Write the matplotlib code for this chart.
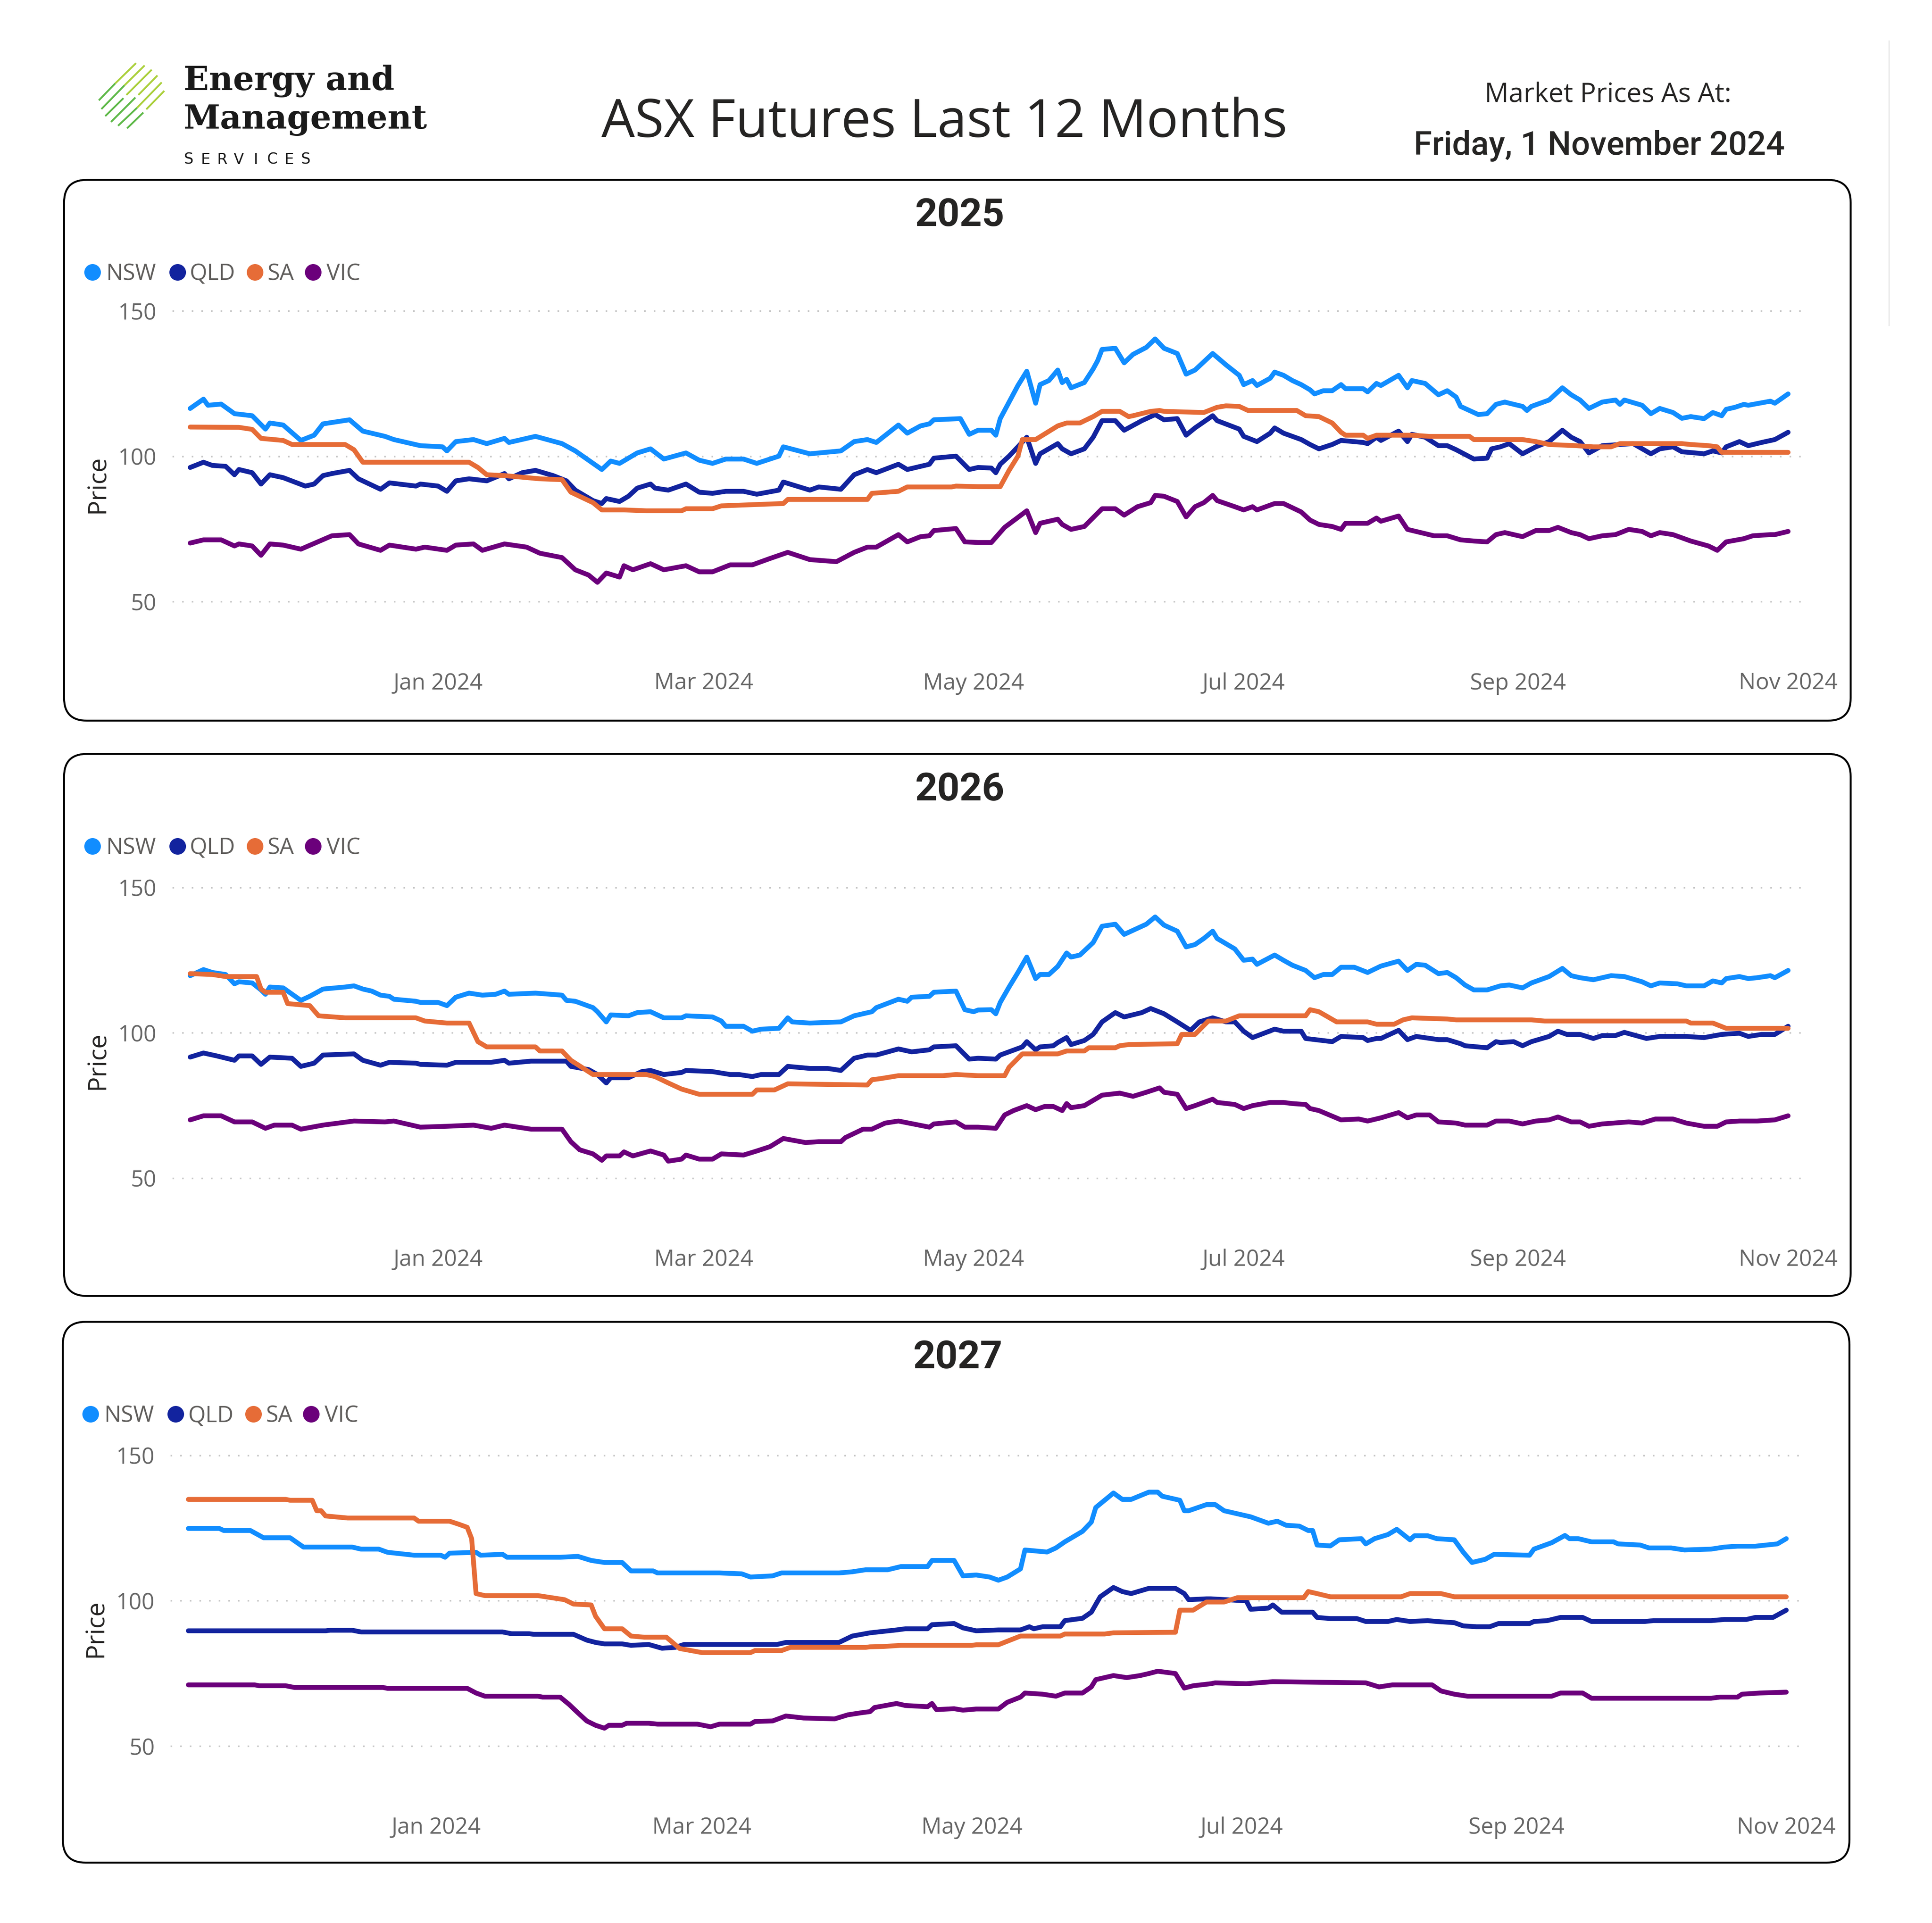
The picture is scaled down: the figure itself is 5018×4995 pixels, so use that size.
import numpy as np
import matplotlib
matplotlib.use("Agg")
from matplotlib import pyplot as plt
import matplotlib.dates as mdates
from matplotlib.patches import FancyBboxPatch
from matplotlib.lines import Line2D

# dane: dni liczone od 2024-01-01, ceny w $/MWh
BASE_DATE = np.datetime64("2024-01-01")
regions = ["NSW", "QLD", "SA", "VIC"]
colors = ["#118DFF", "#12239E", "#E66C37", "#6B007B"]
panel_titles = ["2025", "2026", "2027"]
ytick_values = [50, 100, 150]

# ---- 2025 ----
nsw_2025_days = [-56, -53, -52, -49, -46, -42, -39, -38, -35, -31, -28, -26, -20, -17, -12, -10, -4, 1, 2, 4,
                 8, 11, 15, 16, 22, 28, 31, 37, 39, 41, 45, 48, 51, 56, 59, 62, 65, 69, 72, 77,
                 78, 84, 91, 94, 97, 99, 104, 106, 109, 111, 112, 118, 120,
                 122, 125, 126, 127, 129, 131, 133, 135, 136, 138, 140, 141, 142, 143, 146, 148, 149, 150, 153, 155,
                 157, 160, 162, 164, 167, 169, 171, 175, 178, 181, 182, 184, 185, 188, 189, 191, 193, 195, 197, 198,
                 200, 202, 204, 205, 209, 210, 212, 213, 217, 219, 220, 223, 226, 228, 230, 231, 235, 237, 239, 241,
                 242, 245, 246, 247, 251, 252, 254, 256, 258, 260, 263, 266, 267, 268, 272, 274, 276, 279, 281, 283,
                 286, 288, 290, 291, 293, 295, 296, 301, 302, 305]
nsw_2025 = [116.5, 119.7, 117.6, 118, 114.7, 114, 109.4, 111.5, 110.8, 105.5, 107.3, 111.2, 112.6, 108.7, 106.9,
            105.8, 103.7, 103.3, 101.9, 105.1, 105.8, 104.4, 106.2, 104.8, 106.9, 104.4, 101.9, 95.5, 98.4, 97.6,
            101.2, 102.6, 99.1, 101.2, 98.7, 97.6, 99.1, 99.1, 97.6, 100.1, 103.3, 100.9, 101.9, 105.1, 105.8,
            104.8, 110.8, 108, 110.5, 111.2, 112.6, 113, 107.6,
            109, 109, 107.3, 113, 118.7, 124.4, 129.3, 118.3, 124.7, 126.1, 129.7, 125.4, 126.5, 123.6, 125.4,
            130.1, 132.9, 136.8, 137.2, 132.2, 135.1, 137.5, 140.4, 137.2, 135.4, 128.3, 129.7, 135.4, 131.5, 127.9,
            124.7, 126.1, 124.4, 126.9, 129, 127.9, 126.1, 124.7, 122.9, 121.5, 122.6, 122.6, 124.7, 123.3, 123.3,
            122.2, 125.1, 124.4, 127.9, 123.6, 126.1, 125.1, 121.2, 122.6, 120.4, 117.2, 114.4, 114.7, 117.9, 118.7,
            118.3, 117.2, 115.8, 117.2, 119.4, 120.8, 123.6, 121.2, 119.4, 116.5, 118.7, 119.4, 117.9, 119.4, 117.6,
            114.7, 116.5, 115.1, 113.1, 113.7, 113, 115.1, 114, 116.2, 116.9, 117.9, 117.6, 119, 118.3, 121.5]

qld_2025_days = [-56, -53, -51, -48, -46, -45, -42, -40, -38, -35, -30, -28, -26, -24, -20, -18, -13, -11, -5, -4,
                 0, 2, 4, 7, 11, 15, 16, 19, 22, 26, 29, 31, 35, 37, 38, 41, 43, 45, 48, 49,
                 52, 56, 59, 62, 65, 69, 72, 77, 78, 84, 86, 91, 94, 97, 99, 104, 106, 111, 112, 117, 120,
                 122, 125, 126, 127, 129, 131, 133, 135, 136, 140, 141, 143, 146, 148, 150, 153, 155, 159, 162, 164,
                 167, 169, 171, 175, 176, 181, 182, 185, 188, 189, 191, 195, 197, 199, 202, 204, 209, 210, 212, 213,
                 217, 219, 220, 223, 226, 228, 230, 234, 237, 238, 240, 242, 245, 248, 251, 254, 256, 258, 260, 263,
                 267, 270, 274, 276, 279, 281, 284, 286, 288, 290, 291, 294, 296, 299, 302, 305]
qld_2025 = [96.2, 98, 96.9, 96.6, 93.7, 95.5, 94.4, 90.5, 93.7, 92.7, 89.8, 90.5, 93.4, 94.1, 95.2, 92.3, 88.7, 90.9,
            89.8, 90.5, 89.8, 88, 91.6, 92.3, 91.6, 94.1, 92.3, 94.4, 95.2, 93.4, 91.6, 88.4, 84.8, 83.8, 85.5,
            84.5, 86.3, 89.1, 90.5, 89.1, 88.4, 90.5, 87.7, 87.3, 88, 88, 87, 88.4, 91.2, 88.4, 89.5, 88.7, 93.7,
            95.5, 94.4, 97.3, 95.5, 97.3, 99.4, 100.1, 95.5,
            96.2, 96, 94.4, 97.3, 100.1, 103.3, 106.6, 97.6, 100.9, 104.4, 102.6, 100.9, 102.6, 106.6, 112.3, 112.3,
            109, 112.3, 114.4, 112.6, 113, 107.3, 109.8, 114, 112.3, 109.4, 106.9, 105.1, 108, 109.8, 108, 105.8,
            104.1, 102.6, 104.1, 105.5, 104.8, 104.4, 106.6, 105.5, 108.7, 105.1, 107.6, 106.6, 103.7, 103.7, 102.3,
            99.1, 99.4, 102.6, 103.3, 104.4, 100.9, 103.3, 105.1, 109, 106.6, 105.1, 101.2, 103.7, 104.1, 104.4,
            100.9, 102.6, 103.3, 101.6, 101.2, 100.9, 101.9, 101.2, 103.3, 105.1, 103.7, 104.8, 105.8, 108.3]

sa_2025_days = [-56, -45, -42, -40, -35, -33, -21, -19, -17, 7, 9, 11, 15, 23, 28, 30, 35, 37, 42, 47,
                55, 56, 62, 64, 71, 78, 79, 97, 98, 104, 106, 116, 117,
                122, 127, 129, 131, 132, 135, 140, 142, 145, 148, 150, 154, 156, 157, 161, 163, 164, 173, 176, 178,
                181, 183, 194, 196, 199, 202, 204, 205, 209, 210, 212, 220, 224, 233, 234, 245, 248, 251, 257, 261,
                265, 267, 281, 283, 287, 289, 290, 305]
sa_2025 = [110.1, 110, 109.3, 106.2, 105.5, 104.1, 104.1, 102.3, 98, 98, 96.2, 93.7, 93.4, 92.3, 92, 87.7, 84.1,
           81.6, 81.6, 81.3, 81.3, 82, 82, 83, 83.4, 83.8, 85.2, 85.2, 87.3, 88, 89.5, 89.5, 89.8,
           89.6, 89.6, 95.2, 100.1, 105.8, 105.8, 110.5, 111.5, 111.5, 113.7, 115.5, 115.5, 113.7, 114, 115.5,
           115.8, 115.5, 115.1, 116.9, 117.4, 117.2, 115.8, 115.8, 114, 113.7, 111.5, 108.3, 107.3, 107.3, 106.2,
           107.3, 107.3, 106.9, 106.9, 105.8, 105.8, 105.1, 104.1, 103.7, 103.3, 103.3, 104.4, 104.4, 104.1, 103.7,
           103.3, 101.4, 101.4]

vic_2025_days = [-56, -53, -49, -46, -45, -42, -40, -38, -35, -31, -24, -20, -18, -13, -11, -5, -3, 2, 4, 8,
                 10, 15, 20, 23, 28, 31, 34, 36, 38, 41, 42, 44, 48, 51, 56, 59, 62, 66, 71, 75,
                 79, 84, 90, 94, 97, 99, 104, 106, 109, 111, 112, 117, 119,
                 122, 125, 128, 133, 135, 136, 140, 141, 143, 146, 150, 153, 155, 158, 161, 162, 164, 167, 169, 171,
                 173, 175, 176, 180, 182, 184, 185, 189, 191, 195, 197, 199, 202, 204, 205, 210, 212, 213, 217, 219,
                 225, 228, 231, 234, 237, 239, 241, 245, 248, 251, 253, 256, 258, 260, 263, 266, 269, 272, 274, 276,
                 279, 283, 287, 289, 291, 295, 297, 301, 302, 305]
vic_2025 = [70.2, 71.3, 71.3, 69.2, 69.9, 69.2, 66, 69.9, 69.5, 68.1, 72.7, 73.1, 69.9, 67.7, 69.5, 68.1, 68.8,
            67.7, 69.5, 69.9, 67.7, 69.9, 68.8, 66.7, 65.2, 61, 59.2, 56.7, 59.9, 58.5, 62.4, 61, 63.1, 61, 62.4,
            60.3, 60.3, 62.7, 62.7, 64.9, 67, 64.5, 63.8, 67, 68.8, 68.8, 73.1, 70.6, 72.4, 72.7, 74.5, 75.2, 70.6,
            70.4, 70.4, 75.6, 81.3, 73.8, 77, 78.4, 76.6, 74.9, 75.9, 82, 82, 79.8, 82.7, 84.1, 86.6, 86.3, 84.5,
            79.2, 82.7, 84.1, 86.6, 84.8, 82.7, 81.6, 82.7, 81.6, 83.8, 83.8, 80.9, 78.1, 76.6, 75.9, 74.9, 77, 77,
            78.8, 77.7, 79.5, 74.9, 72.7, 72.7, 71.3, 70.9, 70.6, 73.1, 73.8, 72.4, 74.5, 74.5, 75.6, 73.8, 73.1,
            71.7, 72.7, 73.1, 74.9, 74.2, 72.7, 73.8, 73.1, 70.9, 69.2, 67.7, 70.6, 71.7, 72.7, 73.1, 73.1, 74.2]

# ---- 2026 ----
nsw_2026_days = [-56, -53, -51, -48, -46, -45, -42, -40, -39, -38, -35, -31, -29, -26, -21, -19, -17, -15, -13, -11,
                 -10, -5, -4, 0, 2, 4, 7, 10, 13, 15, 16, 22, 28, 29, 31, 35, 36, 38, 39, 43,
                 45, 48, 51, 55, 56, 62, 64, 65, 69, 71, 73, 77, 79, 80, 84, 91, 94, 98, 99, 104,
                 106, 107, 111, 112, 117, 119, 121,
                 122, 125, 126, 127, 129, 131, 133, 135, 136, 138, 140, 142, 143, 145, 148, 150, 153, 155, 157, 160,
                 162, 164, 167, 169, 171, 173, 175, 176, 180, 182, 184, 185, 189, 191, 193, 196, 198, 200, 202, 204,
                 207, 210, 213, 217, 219, 221, 223, 226, 228, 230, 232, 234, 237, 240, 242, 245, 247, 251, 254, 256,
                 258, 261, 265, 268, 272, 274, 276, 280, 282, 286, 288, 290, 291, 294, 296, 298, 301, 302, 305]
nsw_2026 = [119.7, 121.8, 120.8, 120.1, 116.9, 117.6, 117.2, 114.8, 113.3, 115.8, 115.5, 111.2, 112.6, 115.1, 115.8,
            116.2, 115.1, 114.4, 113, 112.6, 111.6, 110.9, 110.5, 110.5, 109.4, 112.3, 113.7, 113, 113.3, 114.4,
            113.3, 113.7, 113, 111.2, 110.9, 108.7, 107.3, 103.8, 106.2, 105.9, 107, 107.3, 105.2, 105.2, 105.9,
            105.5, 104.1, 102.3, 102.3, 100.6, 101.3, 101.6, 105.2, 103.8, 103.4, 103.8, 105.9, 107.3, 108.7, 111.6,
            110.9, 112.3, 112.6, 114, 114.4, 108, 107.3,
            107.9, 108, 106.6, 110.5, 115.8, 120.8, 126.1, 118.7, 120.1, 120.1, 122.9, 127.5, 126.1, 126.8, 131.1,
            136.7, 137.4, 133.9, 135.3, 137.4, 139.9, 137.1, 135, 129.6, 130.4, 132.5, 135, 132.5, 128.9, 125,
            125.4, 123.6, 126.8, 125, 123.3, 121.5, 119, 120.1, 120.1, 122.6, 122.6, 120.8, 123, 124.7, 121.5,
            123.6, 123.3, 120.4, 120.8, 119, 116.5, 114.8, 114.8, 116.2, 116.5, 115.5, 117.2, 119.4, 122.2, 119.7,
            119, 118.3, 119.7, 119.4, 117.6, 116.2, 117.2, 116.9, 116.2, 116.2, 117.9, 117.2, 118.7, 119.4, 118.7,
            119, 119.7, 119, 121.5]

qld_2026_days = [-56, -53, -50, -46, -45, -42, -40, -38, -33, -31, -28, -26, -19, -17, -13, -11, -5, -4, 2, 4,
                 12, 15, 16, 21, 29, 30, 34, 36, 38, 39, 43, 46, 48, 51, 55, 56, 62, 66, 68, 71,
                 73, 77, 79, 84, 88, 91, 94, 97, 99, 104, 107, 111, 112, 117, 120,
                 122, 126, 127, 132, 133, 135, 136, 139, 140, 142, 143, 146, 148, 150, 153, 155, 159, 161, 164, 167,
                 170, 172, 175, 178, 180, 182, 184, 189, 191, 195, 196, 202, 204, 209, 210, 212, 213, 217, 219, 221,
                 226, 228, 231, 232, 237, 239, 240, 243, 245, 247, 251, 253, 255, 258, 261, 263, 266, 268, 273, 276,
                 282, 286, 290, 294, 296, 299, 302, 305]
qld_2026 = [91.7, 93.1, 92.1, 90.6, 92.1, 92.1, 89.2, 91.7, 91.3, 88.5, 89.6, 92.4, 92.8, 90.6, 88.9, 89.9, 89.6,
            89.2, 88.9, 89.9, 89.9, 90.6, 89.6, 90.3, 90.3, 88.5, 87.4, 85.7, 82.8, 84.6, 84.6, 86.7, 87.1, 85.7,
            86.4, 87.1, 86.7, 85.7, 85.7, 85, 85.7, 85.7, 88.5, 87.8, 87.8, 87.1, 91.3, 92.4, 92.4, 94.5, 93.5,
            94.2, 95.2, 95.6, 91,
            91.3, 91, 92.4, 95.2, 97, 94.2, 95.2, 95.6, 96.7, 98.4, 96, 97.4, 99.5, 103.8, 107, 105.5, 107, 108.4,
            106.6, 103.8, 100.9, 103.8, 105.2, 103.8, 103.8, 100.6, 98.4, 101.3, 100.6, 100.6, 98.1, 97, 98.8,
            98.4, 97.4, 98.1, 98.1, 100.9, 97.7, 98.8, 97.7, 97.7, 96.3, 95.6, 94.9, 97, 96.7, 97, 95.6, 97, 98.8,
            100.6, 99.5, 99.5, 98.1, 99.1, 99.1, 100.2, 98.1, 98.8, 98.8, 98.4, 99.5, 99.9, 98.8, 99.5, 99.5, 102.3]

sa_2026_days = [-56, -51, -48, -41, -40, -39, -35, -34, -29, -27, -21, -5, -3, 2, 7, 9, 11, 22, 23, 28,
                30, 35, 47, 49, 52, 55, 59, 71, 72, 76, 78, 79, 97, 98, 100, 104, 114, 117,
                122, 128, 129, 132, 140, 142, 146, 147, 153, 154, 156, 167, 168, 171, 174, 178, 181, 196, 197, 199,
                203, 210, 212, 216, 218, 220, 228, 230, 247, 250, 282, 283, 288, 291, 305]
sa_2026 = [120.4, 120.1, 119.4, 119.4, 115.1, 114, 114, 110.1, 109.4, 105.9, 105.2, 105.2, 104.1, 103.4, 103.4, 97,
           95.2, 95.2, 93.8, 93.8, 90.6, 85.7, 85.7, 85, 82.8, 80.7, 78.9, 78.9, 80.4, 80.4, 81.8, 82.5, 82.1, 83.9,
           84.3, 85.3, 85.3, 85.7,
           85.3, 85.3, 88.2, 92.8, 92.8, 93.8, 93.8, 94.9, 94.9, 95.6, 96, 96.3, 99.5, 99.5, 104.1, 104.1, 105.9,
           105.9, 108, 107.3, 103.8, 103.8, 103, 103, 104.5, 105.2, 104.8, 104.5, 104.5, 104.1, 104.1, 103.4,
           103.4, 101.6, 101.6]

vic_2026_days = [-56, -53, -49, -46, -42, -39, -37, -33, -31, -26, -24, -19, -12, -10, -4, 2, 8, 12, 15, 21,
                 28, 30, 32, 35, 37, 38, 41, 42, 44, 48, 51, 52, 55, 56, 59, 62, 64, 69, 72, 75,
                 78, 83, 86, 91, 92, 96, 98, 101, 104, 111, 112, 117, 119,
                 122, 126, 128, 130, 133, 135, 137, 139, 141, 142, 143, 146, 150, 154, 157, 160, 163, 164, 167, 169,
                 171, 175, 176, 180, 182, 184, 188, 191, 193, 196, 197, 199, 204, 208, 210, 213, 217, 219, 221, 224,
                 226, 230, 232, 237, 239, 242, 245, 248, 251, 253, 256, 258, 260, 263, 269, 272, 275, 279, 282, 286,
                 289, 291, 294, 298, 302, 305]
vic_2026 = [70.1, 71.5, 71.5, 69.4, 69.4, 67.2, 68.3, 68.3, 66.9, 68.3, 68.7, 69.7, 69.4, 69.7, 67.6, 67.9, 68.3,
            67.2, 68.3, 66.9, 66.9, 62.6, 59.8, 58.4, 56.2, 57.7, 57.7, 59.1, 57.7, 59.4, 58, 55.9, 56.6, 58, 56.6,
            56.6, 58.4, 58, 59.4, 60.9, 63.7, 62.3, 62.6, 62.6, 64, 66.9, 66.9, 69, 69.7, 67.6, 68.7, 69.4, 67.6,
            67.6, 67.2, 71.8, 73.3, 75, 73.6, 74.7, 74.7, 73.3, 75.7, 74.3, 75, 78.6, 79.3, 78.2, 79.6, 81.1, 79.6,
            78.9, 74, 75, 77.2, 76.1, 75.4, 74, 75, 76.1, 76.1, 75.7, 75.4, 74, 73.3, 70.1, 70.4, 69.7, 70.8, 72.6,
            70.8, 71.8, 71.8, 69.4, 69, 68.3, 68.3, 69.7, 69.7, 68.7, 69.7, 70.1, 71.1, 69.4, 69.4, 67.9, 68.7,
            69.4, 69, 70.4, 70.4, 69, 67.9, 67.9, 69.4, 69.7, 69.7, 70.1, 71.5]

# ---- 2027 ----
nsw_2027_days = [-56, -49, -48, -42, -39, -33, -30, -19, -17, -13, -11, -5, 1, 2, 3, 9, 10, 15, 16, 28,
                 32, 35, 38, 42, 44, 49, 50, 64, 69, 71, 76, 78, 91, 94, 97, 102, 105, 111, 112, 117, 119,
                 122, 125, 127, 129, 132, 133, 138, 140, 142, 146, 148, 149, 153, 155, 157, 161, 163, 164, 168, 169,
                 170, 174, 176, 178, 182, 184, 188, 190, 192, 195, 197, 198, 199, 202, 204, 209, 210, 212, 215, 217,
                 220, 221, 224, 226, 230, 232, 234, 237, 239, 247, 248, 252, 255, 256, 258, 261, 266, 267, 272, 274,
                 279, 282, 288, 291, 294, 298, 303, 305]
nsw_2027 = [124.9, 124.9, 124.2, 124.2, 121.7, 121.7, 118.5, 118.5, 117.8, 117.8, 116.7, 115.7, 115.7, 115, 116.4,
            116.7, 115.7, 116, 115, 115, 115.3, 113.9, 113.2, 113.2, 110.3, 110.3, 109.6, 109.6, 109.3, 108.2,
            108.6, 109.6, 109.6, 110, 110.7, 110.7, 111.8, 111.8, 113.9, 113.9, 108.6,
            108.9, 108.2, 107.1, 108.2, 111, 117.5, 116.8, 118.2, 120.3, 123.9, 127.1, 132.1, 137.1, 134.9, 134.9,
            137.4, 137.4, 136, 134.6, 131, 131, 133.1, 133.1, 131, 129.6, 128.9, 126.7, 127.4, 126, 125.7, 124.2,
            124.2, 119.2, 118.9, 121, 121.4, 119.6, 121.4, 122.8, 124.6, 121, 122.4, 122.4, 121.4, 121, 116.8,
            113.2, 114.3, 116, 115.7, 117.8, 120, 122.5, 121.4, 121.4, 120.3, 120.3, 119.6, 119.2, 118.2, 118.2,
            117.5, 117.8, 118.5, 118.8, 118.8, 119.6, 121.4]

qld_2027_days = [-56, -25, -24, -19, -17, 15, 17, 21, 22, 31, 34, 36, 38, 42, 44, 48, 51, 54, 56, 77,
                 79, 91, 94, 98, 104, 106, 111, 112, 117, 119,
                 122, 127, 132, 134, 135, 137, 141, 142, 146, 148, 150, 153, 155, 157, 161, 167, 169, 170, 174, 175,
                 183, 184, 188, 189, 191, 198, 199, 202, 208, 210, 215, 217, 220, 224, 226, 230, 232, 235, 238, 240,
                 247, 248, 251, 254, 259, 261, 273, 275, 288, 291, 296, 298, 302, 305]
qld_2027 = [89.7, 89.7, 89.9, 89.9, 89.3, 89.3, 88.7, 88.7, 88.5, 88.5, 86.5, 85.7, 85.2, 85.2, 84.7, 85, 83.7, 84,
            85, 85, 85.7, 85.7, 87.9, 89, 90, 90.4, 90.4, 91.8, 92.2, 90.7,
            89.7, 90, 90, 91.1, 90.4, 91.1, 91.1, 93.2, 94, 96.1, 101.4, 104.6, 103.2, 102.5, 104.3, 104.3, 102.5,
            100.4, 100.7, 100.7, 100, 97.1, 97.5, 98.6, 96.1, 96.1, 94.3, 93.9, 93.9, 92.9, 92.9, 93.6, 92.9, 93.2,
            92.9, 92.5, 91.4, 91.1, 91.1, 92.2, 92.2, 92.9, 93.2, 94.3, 94.3, 92.9, 92.9, 93.2, 93.2, 93.6, 93.6,
            94.3, 94.3, 96.8]

sa_2027_days = [-56, -34, -33, -28, -27, -26, -25, -20, -5, -4, 3, 5, 7, 8, 9, 11, 23, 26, 29, 31,
                35, 36, 38, 42, 44, 47, 52, 55, 59, 60, 71, 72, 78, 80, 97, 98, 101, 105, 121,
                122, 127, 129, 132, 141, 142, 151, 153, 167, 168, 171, 174, 178, 181, 196, 197, 199, 202, 218, 220,
                227, 230, 305]
sa_2027 = [134.9, 134.9, 134.6, 134.6, 131, 131, 129.2, 128.5, 128.5, 127.4, 127.4, 126.4, 125.3, 121.4, 102.5,
           101.8, 101.8, 101.1, 100.4, 98.9, 98.6, 94.7, 90.4, 90.4, 87.9, 87.5, 87.5, 83.6, 82.5, 82.2, 82.2, 82.9,
           82.9, 84, 84, 84.2, 84.3, 84.7, 84.7,
           84.9, 84.9, 86.1, 87.9, 87.9, 88.6, 88.6, 89, 89.2, 96.8, 96.8, 99.6, 99.6, 101.1, 101.1, 103.2, 102.5,
           101.4, 101.4, 102.5, 102.5, 101.4, 101.4]

vic_2027_days = [-56, -41, -40, -34, -32, -12, -11, 7, 9, 11, 23, 24, 28, 30, 32, 34, 36, 38, 39, 42,
                 43, 48, 50, 59, 62, 64, 71, 72, 76, 79, 83, 90, 93, 96, 98, 99, 104, 106, 111, 112, 113, 117, 119,
                 122, 127, 129, 132, 133, 137, 140, 142, 146, 148, 149, 153, 156, 159, 161, 163, 167, 169, 171, 175,
                 176, 183, 189, 210, 213, 216, 225, 227, 230, 233, 252, 254, 259, 261, 288, 290, 294, 295, 299, 305]
vic_2027 = [71.1, 71.1, 70.8, 70.8, 70.2, 70.2, 69.9, 69.9, 68.3, 67.2, 67.2, 66.9, 66.9, 64.4, 61.5, 58.7, 57.2,
            56.2, 57.2, 57.2, 57.9, 57.9, 57.6, 57.6, 56.7, 57.6, 57.6, 58.5, 58.7, 60.4, 59.7, 59.4, 60.8, 61.5,
            61.9, 63.3, 64.7, 64, 63.6, 64.7, 62.6, 62.9, 62.4,
            62.8, 62.8, 65.1, 66.9, 68.3, 67.9, 67.2, 68.3, 68.3, 70.4, 72.9, 74.3, 73.6, 74.3, 75, 75.8, 75, 70,
            70.8, 71.5, 71.8, 71.5, 72.2, 71.8, 70.4, 71.1, 71.1, 69, 67.9, 67.2, 67.2, 68.3, 68.3, 66.5, 66.5,
            66.9, 66.9, 67.9, 68.3, 68.6]

panel_series = [
    [(nsw_2025_days, nsw_2025), (qld_2025_days, qld_2025), (sa_2025_days, sa_2025), (vic_2025_days, vic_2025)],
    [(nsw_2026_days, nsw_2026), (qld_2026_days, qld_2026), (sa_2026_days, sa_2026), (vic_2026_days, vic_2026)],
    [(nsw_2027_days, nsw_2027), (qld_2027_days, qld_2027), (sa_2027_days, sa_2027), (vic_2027_days, vic_2027)],
]

# uklad strony w pikselach podgladu referencji (1568 x 1561)
REF_W, REF_H = 1568.0, 1561.0


def fx(x):
    return x / REF_W


def fy(y):
    return 1 - y / REF_H


panel_top = [146, 612, 1073]
panel_bottom = [585, 1052, 1512]
panel_left = [52, 52, 51]
panel_right = [1502, 1502, 1501]
panel_y100 = [370.5, 838.5, 1299.5]
panel_dx = [0, 0, -1.5]
PX_PER_UNIT = 2.36

TEXT_DARK = "#252423"
TEXT_GREY = "#605E5C"
TICK_GREY = "#666666"

fig = plt.figure(figsize=(50.18, 49.95), dpi=100)
fig.patch.set_facecolor("white")

# logo: ukosne kreski w kole (ciemna zielen u dolu, limonka u gory)
DARK_G, LIME_G = "#5DB847", "#AACF3A"
logo_segments = [
    ((170, 482), (298, 350), DARK_G), ((298, 350), (460, 192), LIME_G),
    ((190, 550), (370, 365), DARK_G), ((370, 365), (527, 210), LIME_G),
    ((220, 605), (362, 465), DARK_G), ((385, 440), (582, 243), LIME_G),
    ((265, 650), (455, 460), DARK_G), ((478, 440), (627, 288), LIME_G),
    ((320, 680), (468, 540), DARK_G), ((468, 540), (660, 342), LIME_G),
    ((390, 700), (517, 577), DARK_G), ((540, 552), (680, 408), LIME_G),
]
for (ax0, ay0), (ax1, ay1), col in logo_segments:
    px0, py0 = 200 + ax0 / 3.0, 100 + ay0 / 3.0
    px1, py1 = 200 + ax1 / 3.0, 100 + ay1 / 3.0
    fig.add_artist(Line2D([px0 / 5018, px1 / 5018], [1 - py0 / 4995, 1 - py1 / 4995], color=col, lw=3.4,
                          solid_capstyle="butt", transform=fig.transFigure))

fig.text(fx(149), fy(73), "Energy and", family="DejaVu Serif", fontweight="bold", fontsize=62,
         color="#1A1A1A", ha="left", va="baseline")
fig.text(fx(149), fy(104.5), "Management", family="DejaVu Serif", fontweight="bold", fontsize=62,
         color="#1A1A1A", ha="left", va="baseline")
for i, ch in enumerate("SERVICES"):
    fig.text(fx(153 + i * 13.6), fy(133), ch, family="DejaVu Sans", fontsize=28, color="#1A1A1A",
             ha="center", va="baseline")

fig.text(fx(766.5), fy(100), "ASX Futures Last 12 Months", family="Open Sans", fontsize=99,
         color=TEXT_DARK, ha="center", va="center")
fig.text(fx(1305), fy(77), "Market Prices As At:", family="Open Sans", fontsize=50,
         color=TEXT_DARK, ha="center", va="center")
fig.text(fx(1298), fy(118.5), "Friday, 1 November 2024", family="Roboto", fontweight="medium", fontsize=62,
         color=TEXT_DARK, ha="center", va="center")

# cienka pionowa linia po prawej u gory
fig.add_artist(Line2D([fx(1533), fx(1533)], [fy(33), fy(264)], color="#E3E3E3", lw=2,
                      transform=fig.transFigure))

legend_marker_x = [75, 144, 207, 254]
legend_text_x = [86, 154, 217, 265]

xlim_lo = BASE_DATE + np.timedelta64(-60, "D")
xlim_hi = BASE_DATE + np.timedelta64(308, "D")

for p in range(3):
    top, bot = panel_top[p], panel_bottom[p]
    left, right = panel_left[p], panel_right[p]
    dx = panel_dx[p]
    y100 = panel_y100[p]

    box = FancyBboxPatch((fx(left), fy(bot)), fx(right) - fx(left), fy(top) - fy(bot),
                         boxstyle="round,pad=0,rounding_size=0.0118", transform=fig.transFigure,
                         fill=False, ec="black", lw=3.6)
    fig.add_artist(box)

    fig.text(fx(779 + dx), fy(top + 29), panel_titles[p], family="Roboto", fontweight="bold", fontsize=73,
             color=TEXT_DARK, ha="center", va="center")

    ly = top + 75
    for i in range(4):
        fig.add_artist(Line2D([fx(legend_marker_x[i] + dx)], [fy(ly)], marker="o", ms=31, mew=0,
                              color=colors[i], transform=fig.transFigure))
        fig.text(fx(legend_text_x[i] + dx), fy(ly + 1.5), regions[i], family="Open Sans", fontsize=42,
                 color=TEXT_GREY, ha="left", va="center")

    ax_top = y100 - 60 * PX_PER_UNIT
    ax_bot = y100 + 70 * PX_PER_UNIT
    ax = fig.add_axes([fx(140 + dx), fy(ax_bot), fx(1462) - fx(140), (ax_bot - ax_top) / REF_H])
    ax.set_facecolor("none")

    for i, (days, vals) in enumerate(panel_series[p]):
        n = min(len(days), len(vals))
        dates = BASE_DATE + np.array(days[:n]).astype("timedelta64[D]")
        ax.plot(dates, vals[:n], color=colors[i], lw=9, solid_joinstyle="round", solid_capstyle="round",
                zorder=3)

    ax.set_xlim(xlim_lo, xlim_hi)
    ax.set_ylim(30, 160)
    ax.set_yticks(ytick_values)
    ax.xaxis.set_major_locator(mdates.MonthLocator(bymonth=[1, 3, 5, 7, 9, 11]))
    ax.xaxis.set_major_formatter(mdates.DateFormatter("%b %Y"))
    ax.grid(axis="y", linestyle=(0, (1, 5)), lw=3, color="#C8C8C8")
    ax.grid(axis="x", visible=False)
    for s in ax.spines.values():
        s.set_visible(False)
    ax.tick_params(axis="both", length=0, labelsize=42, labelcolor=TICK_GREY)
    ax.tick_params(axis="x", pad=23)
    ax.tick_params(axis="y", pad=30)
    for lab in ax.get_xticklabels() + ax.get_yticklabels():
        lab.set_family("Open Sans")

    fig.text(fx(79 + dx), fy(y100 + 22.5), "Price", family="Open Sans", fontsize=47, rotation=90,
             color=TEXT_DARK, ha="center", va="center")

fig.savefig("out.png", dpi=100, facecolor="white")
